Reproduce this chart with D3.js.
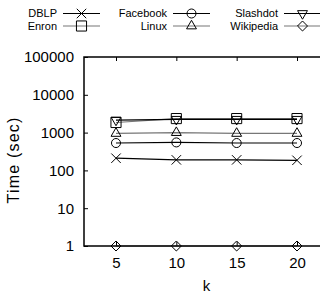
<!DOCTYPE html>
<html>
<head>
<meta charset="utf-8">
<script src="https://cdn.jsdelivr.net/npm/d3@7"></script>
<style>
  body { margin: 0; background: #fff; }
  svg { display: block; font-family: "Liberation Sans", Arial, sans-serif; }
</style>
</head>
<body>
<svg id="chart" width="320" height="297"></svg>
<script>
// running time against k, one line per dataset

var kValues = [5, 10, 15, 20];
var seriesNames = ["DBLP", "Enron", "Facebook", "Linux", "Slashdot", "Wikipedia"];
var dblp      = [210, 190, 190, 185];
var enron     = [1850, 2350, 2350, 2350];
var facebook  = [530, 550, 530, 530];
var linux     = [950, 1000, 950, 950];
var slashdot  = [2150, 2250, 2250, 2250];
var wikipedia = [1, 1, 1, 1];
var yTicks = [1, 10, 100, 1000, 10000, 100000];

var seriesValues = [dblp, enron, facebook, linux, slashdot, wikipedia];
var symbols = [d3.symbolTimes, d3.symbolSquare2, d3.symbolCircle, d3.symbolTriangle2, d3.symbolTriangle2, d3.symbolDiamond2];
var symSizes = [60, 130, 64, 70, 70, 64];
var flips = [false, false, false, false, true, false];
var lineColors = ["#000", "#777", "#000", "#777", "#000", "#777"];

var svg = d3.select("#chart");
var plotL = 84, plotR = 325, plotT = 57, plotB = 246;

var x = d3.scaleLinear().domain([5, 20]).range([116, 297]);
var y = d3.scaleLog().domain([1, 100000]).range([plotB, plotT]);

var data = seriesNames.map(function(n, i) {
  return { name: n, i: i, values: kValues.map(function(k, j) { return { k: k, v: seriesValues[i][j] }; }) };
});

// ticks (inward) and mirror on top
var g = svg.append("g");
g.append("g")
  .attr("transform", "translate(0," + plotB + ")")
  .call(d3.axisBottom(x).tickValues(kValues).tickSize(-4).tickPadding(11))
  .call(function(a) { a.select(".domain").remove(); });
g.append("g")
  .attr("transform", "translate(0," + plotT + ")")
  .call(d3.axisTop(x).tickValues(kValues).tickSize(-4).tickFormat(""))
  .call(function(a) { a.select(".domain").remove(); });
g.append("g")
  .attr("transform", "translate(" + plotL + ",0)")
  .call(d3.axisLeft(y).tickValues(yTicks).tickFormat(d3.format("d")).tickSize(-4).tickPadding(10))
  .call(function(a) { a.select(".domain").remove(); });

g.selectAll(".tick text").attr("font-size", 15).attr("fill", "#000").attr("font-family", "Liberation Sans, Arial, sans-serif");
g.selectAll(".tick line").attr("stroke", "#000");

var line = d3.line().x(function(d) { return x(d.k); }).y(function(d) { return y(d.v); });

svg.selectAll(".series")
  .data(data)
  .enter().append("path")
    .attr("d", function(d) { return line(d.values); })
    .attr("fill", "none")
    .attr("stroke", function(d) { return lineColors[d.i]; })
    .attr("stroke-width", 1.2);

function symbolPath(i) {
  return d3.symbol().type(symbols[i]).size(symSizes[i])();
}

data.forEach(function(s) {
  svg.selectAll(null)
    .data(s.values)
    .enter().append("path")
      .attr("d", symbolPath(s.i))
      .attr("transform", function(d) {
        return "translate(" + x(d.k) + "," + y(d.v) + ")" + (flips[s.i] ? " rotate(180)" : "");
      })
      .attr("fill", "none")
      .attr("stroke", "#000")
      .attr("stroke-width", 1);
});

// frame
svg.append("path")
  .attr("d", "M" + plotR + "," + plotT + "H" + plotL + "V" + plotB + "H" + plotR)
  .attr("fill", "none")
  .attr("stroke", "#000")
  .attr("stroke-width", 1.5);

// axis titles
svg.append("text")
  .attr("x", x(12.5)).attr("y", 291)
  .attr("text-anchor", "middle")
  .attr("font-size", 15)
  .text("k");
svg.append("text")
  .attr("transform", "translate(19,160) rotate(-90)")
  .attr("text-anchor", "middle")
  .attr("font-size", 16)
  .attr("letter-spacing", 1.2)
  .text("Time (sec)");

// legend, 3 columns x 2 rows
var legX = [57, 167, 278];
var legend = svg.selectAll(".leg")
  .data(data)
  .enter().append("g")
    .attr("transform", function(d) {
      return "translate(" + legX[Math.floor(d.i / 2)] + "," + (13.5 + (d.i % 2) * 12.5) + ")";
    });
legend.append("text")
  .attr("text-anchor", "end")
  .attr("dy", "0.35em")
  .attr("font-size", 11)
  .text(function(d) { return d.name; });
legend.append("line")
  .attr("x1", 6).attr("x2", 43)
  .attr("stroke", function(d) { return lineColors[d.i]; })
  .attr("stroke-width", 1.2);
legend.append("path")
  .attr("d", function(d) { return symbolPath(d.i); })
  .attr("transform", function(d) { return "translate(24.5,0)" + (flips[d.i] ? " rotate(180)" : ""); })
  .attr("fill", "none")
  .attr("stroke", "#000");
</script>
</body>
</html>
